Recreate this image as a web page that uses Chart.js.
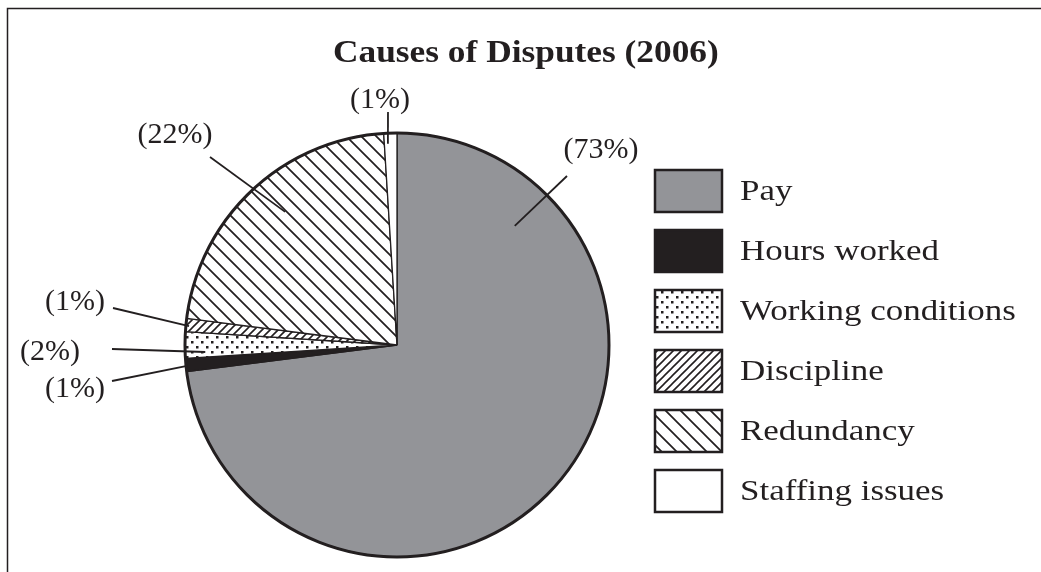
<!DOCTYPE html>
<html>
<head>
<meta charset="utf-8">
<title>Causes of Disputes (2006)</title>
<script src="https://cdn.jsdelivr.net/npm/chart.js@4.4.1/dist/chart.umd.min.js"></script>
<style>
  html, body { margin: 0; padding: 0; background: #fff; }
  #wrap { width: 1041px; height: 572px; }
</style>
</head>
<body>
<div id="wrap"><canvas id="chart" width="1041" height="572"></canvas></div>
<script>
// Data.
var categories = ['Pay', 'Hours worked', 'Working conditions', 'Discipline', 'Redundancy', 'Staffing issues'];
var shares = [73, 1, 2, 1, 22, 1];
var percentLabels = ['(73%)', '(1%)', '(2%)', '(1%)', '(22%)', '(1%)'];
var chartTitle = 'Causes of Disputes (2006)';

// Callout layout: label centre, leader start, anchor inside slice (fraction of sweep, fraction of radius).
var callouts = [
    { tx: 601, ty: 150, lx: 567, ly: 176, f: 0.17, r: 0.79 },
    { tx: 75,  ty: 389, lx: 112, ly: 381, f: 0.42, r: 0.995 },
    { tx: 50,  ty: 352, lx: 112, ly: 349, f: 0.21, r: 0.905 },
    { tx: 75,  ty: 302, lx: 113, ly: 308, f: 0.44, r: 0.985 },
    { tx: 175, ty: 135, lx: 210, ly: 157, f: 0.54, r: 0.82 },
    { tx: 380, ty: 100, lx: 388, ly: 112, f: 0.28, r: 0.95 }
];

var INK = '#231f20';
var SERIF = '"Liberation Serif", "Times New Roman", serif';

(function () {
    'use strict';

    var canvas = document.getElementById('chart');
    var mainCtx = canvas.getContext('2d');

    function makePattern(size, draw) {
        var c = document.createElement('canvas');
        c.width = size; c.height = size;
        var x = c.getContext('2d');
        x.fillStyle = '#fff';
        x.fillRect(0, 0, size, size);
        x.fillStyle = INK;
        x.strokeStyle = INK;
        draw(x, size);
        return mainCtx.createPattern(c, 'repeat');
    }

    // text drawn slightly wider, closer to the Garamond-like face of the original
    function wideText(ctx, text, x, y, k) {
        ctx.save();
        ctx.translate(x, y);
        ctx.scale(k, 1);
        ctx.fillText(text, 0, 0);
        ctx.restore();
    }

    var dots = makePattern(10, function (x) {
        x.fillRect(1, 1, 2.5, 2.5);
        x.fillRect(6, 6, 2.5, 2.5);
    });

    var forward = makePattern(8, function (x, s) {
        x.lineWidth = 1.6;
        x.beginPath();
        x.moveTo(0, s); x.lineTo(s, 0);
        x.moveTo(-1, 1); x.lineTo(1, -1);
        x.moveTo(s - 1, s + 1); x.lineTo(s + 1, s - 1);
        x.stroke();
    });

    var backward = makePattern(15, function (x, s) {
        x.lineWidth = 1.7;
        x.beginPath();
        x.moveTo(0, 0); x.lineTo(s, s);
        x.moveTo(-1, s - 1); x.lineTo(1, s + 1);
        x.moveTo(s - 1, -1); x.lineTo(s + 1, 1);
        x.stroke();
    });

    var fills = ['#939498', INK, dots, forward, backward, '#ffffff'];

    var decor = {
        id: 'decor',
        afterDatasetsDraw: function (chart) {
            var ctx = chart.ctx;
            var arcs = chart.getDatasetMeta(0).data;
            var a0 = arcs[0];

            // thick outer rim
            ctx.save();
            ctx.lineWidth = 3;
            ctx.strokeStyle = INK;
            ctx.beginPath();
            ctx.arc(a0.x, a0.y, a0.outerRadius, 0, Math.PI * 2);
            ctx.stroke();

            // leaders and percentage labels
            ctx.lineWidth = 1.8;
            ctx.font = '30px ' + SERIF;
            ctx.fillStyle = INK;
            ctx.textAlign = 'center';
            ctx.textBaseline = 'middle';
            arcs.forEach(function (arc, i) {
                var c = callouts[i];
                var ang = arc.startAngle + c.f * (arc.endAngle - arc.startAngle);
                var ax = arc.x + Math.cos(ang) * arc.outerRadius * c.r;
                var ay = arc.y + Math.sin(ang) * arc.outerRadius * c.r;
                ctx.beginPath();
                ctx.moveTo(c.lx, c.ly);
                ctx.lineTo(ax, ay);
                ctx.stroke();
                ctx.fillText(percentLabels[i], c.tx, c.ty);
            });
            ctx.restore();
        },
        afterDraw: function (chart) {
            var ctx = chart.ctx;
            ctx.save();

            // frame (open to the right and bottom)
            ctx.strokeStyle = INK;
            ctx.lineWidth = 1.5;
            ctx.strokeRect(7.5, 8.5, 1200, 1000);

            // title
            ctx.fillStyle = INK;
            ctx.font = 'bold 31px ' + SERIF;
            ctx.textAlign = 'left';
            ctx.textBaseline = 'alphabetic';
            wideText(ctx, chartTitle, 333, 62, 1.14);

            // legend
            ctx.font = '30px ' + SERIF;
            ctx.textBaseline = 'middle';
            categories.forEach(function (name, i) {
                var y = 170 + i * 60;
                ctx.fillStyle = fills[i];
                ctx.fillRect(655, y, 67, 42);
                ctx.lineWidth = 2.5;
                ctx.strokeStyle = INK;
                ctx.strokeRect(655, y, 67, 42);
                ctx.fillStyle = INK;
                wideText(ctx, name, 740, y + 22, 1.165);
            });
            ctx.restore();
        }
    };

    new Chart(canvas, {
        type: 'pie',
        data: {
            labels: categories,
            datasets: [{
                data: shares,
                backgroundColor: fills,
                borderColor: INK,
                borderWidth: 1.3
            }]
        },
        options: {
            responsive: false,
            animation: false,
            radius: 212,
            layout: { padding: { left: 150, right: 397, top: 128, bottom: 10 } },
            plugins: {
                legend: { display: false },
                tooltip: { enabled: false },
                title: { display: false }
            }
        },
        plugins: [decor]
    });
})();
</script>
</body>
</html>
